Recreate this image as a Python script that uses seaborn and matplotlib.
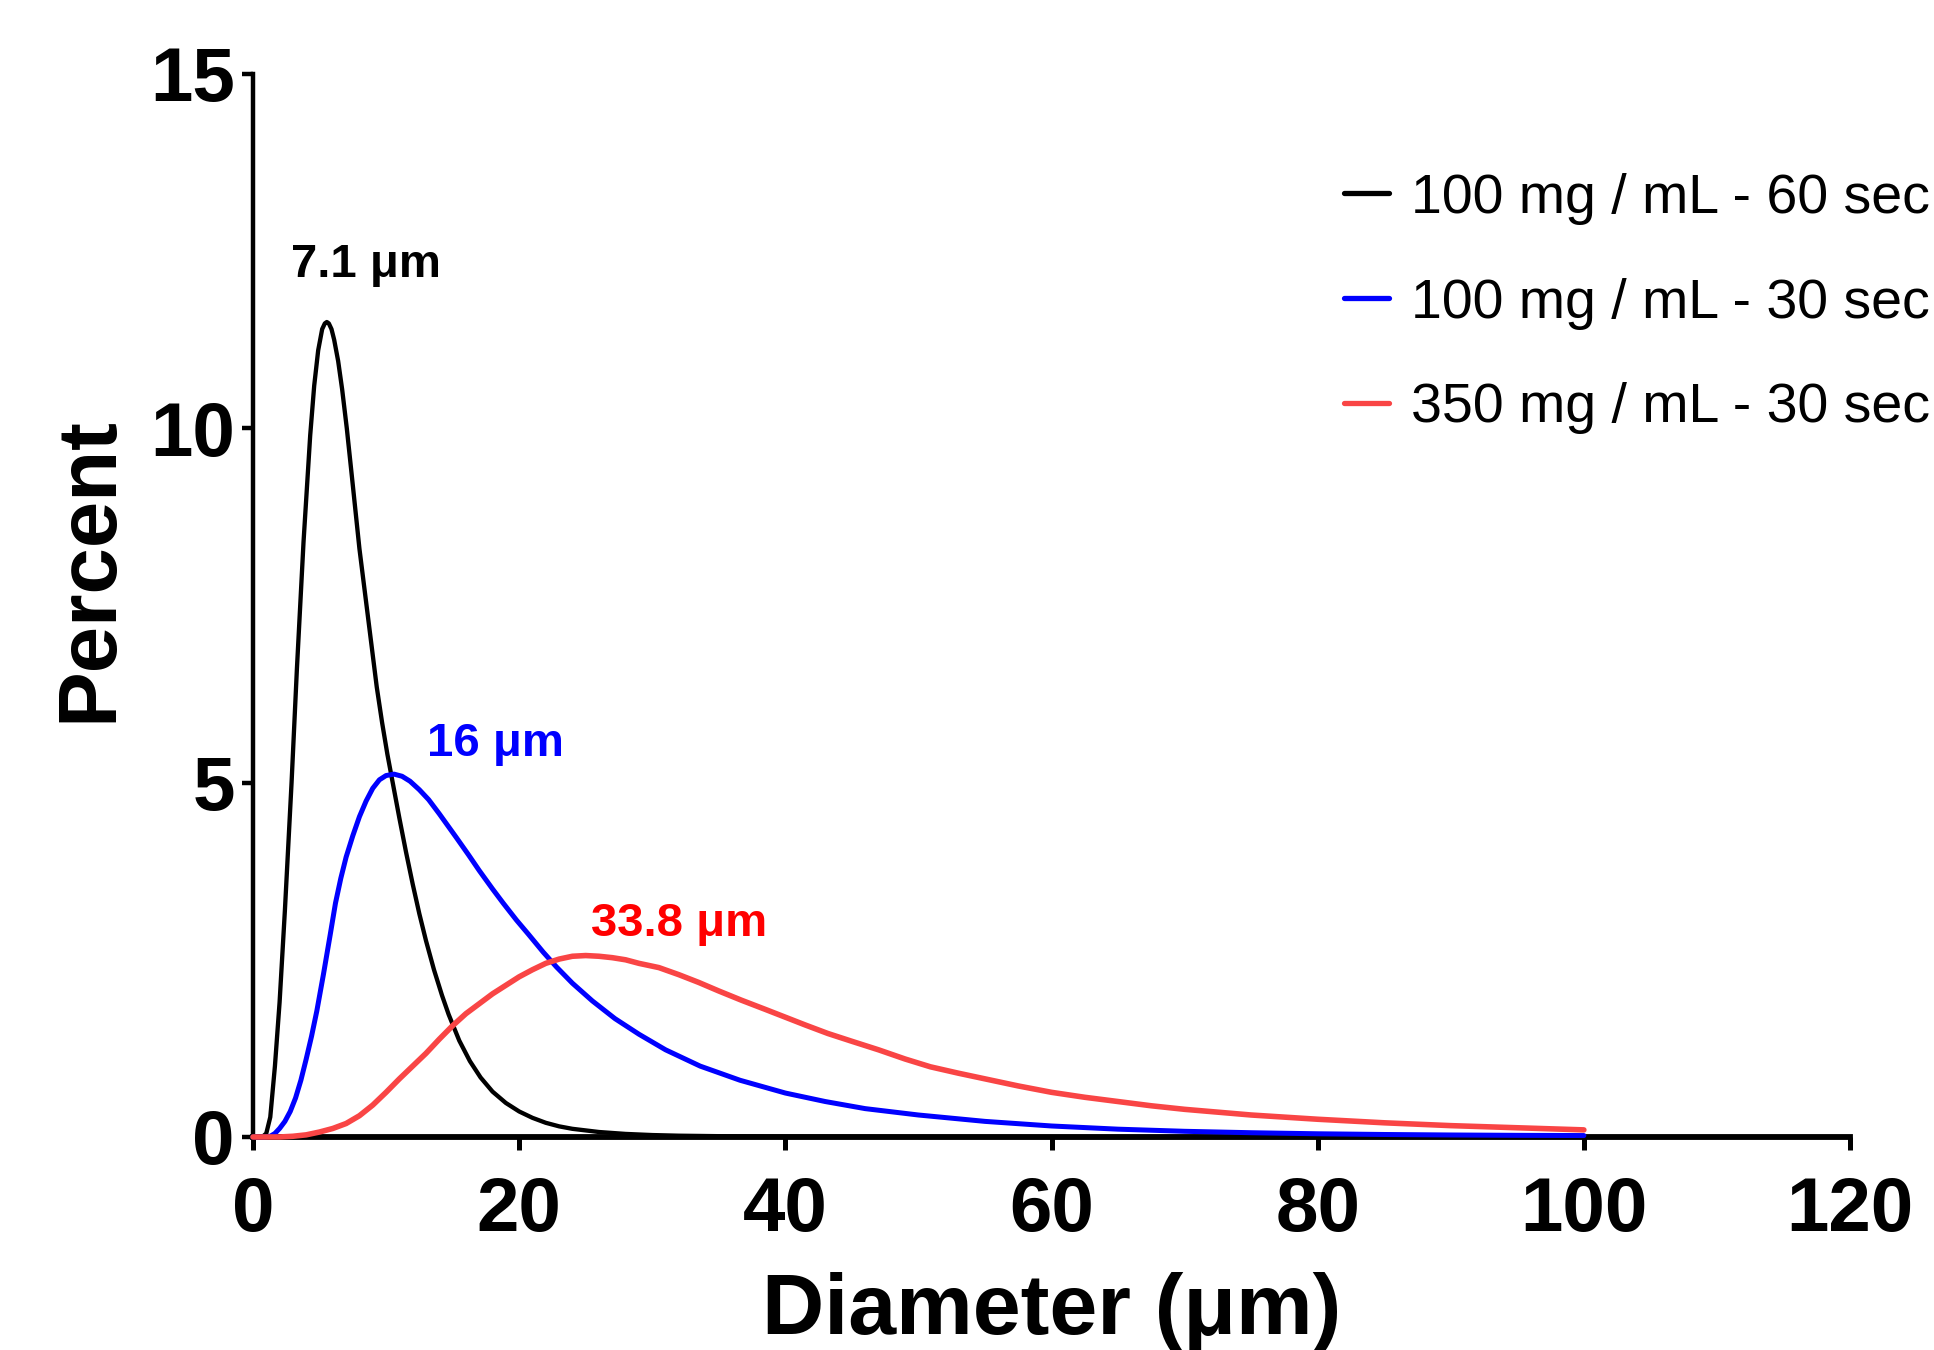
import pandas as pd
import seaborn as sns
import matplotlib.pyplot as plt
from matplotlib.lines import Line2D

# values
x_60s = [0, 0.7, 1.0, 1.3, 1.65, 2.0, 2.4, 2.9, 3.3, 3.8, 4.3, 4.6, 4.9, 5.2, 5.4, 5.55, 5.7,
         5.9, 6.1, 6.4, 6.7, 7.05, 7.5, 8.0, 8.5, 8.9, 9.3, 9.7, 10.1, 10.5, 11.0, 11.5,
         12.0, 12.5, 13.0, 13.6, 14.2, 14.7, 15.5, 16.3, 17.1, 18.0, 19.0, 20.0, 21.0,
         22.0, 23.0, 24.0, 26.0, 28.0, 30.0, 32.0, 36.0, 40.0, 50.0, 60.0, 80.0, 100.0]
y_60s = [0, 0.0, 0.05, 0.28, 1.0, 1.9, 3.2, 5.0, 6.6, 8.4, 9.9, 10.6, 11.1, 11.4, 11.48, 11.5,
         11.48, 11.4, 11.25, 10.95, 10.55, 10.0, 9.2, 8.3, 7.55, 6.95, 6.35, 5.85, 5.4, 5.0,
         4.5, 4.02, 3.57, 3.15, 2.77, 2.36, 2.0, 1.73, 1.36, 1.07, 0.84, 0.64, 0.48, 0.36,
         0.27, 0.2, 0.15, 0.115, 0.07, 0.043, 0.027, 0.018, 0.009, 0.005, 0.001, 0.0, 0.0, 0.0]

x_30s = [0, 0.9, 1.3, 1.65, 2.0, 2.4, 2.8, 3.2, 3.6, 4.0, 4.4, 4.8, 5.3, 5.8, 6.2, 6.6, 7.0,
         7.5, 8.0, 8.5, 9.0, 9.5, 10.0, 10.6, 11.2, 11.8, 12.5, 13.2, 14.0, 15.3, 16.2, 17.0,
         18.0, 18.8, 19.8, 20.7, 21.8, 22.8, 24.0, 25.5, 27.2, 29.0, 31.0, 33.6, 36.6, 40.0,
         43.0, 46.0, 50.0, 55.0, 60.0, 65.0, 70.0, 75.0, 80.0, 85.0, 90.0, 95.0, 100.0]
y_30s = [0, 0.0, 0.01, 0.05, 0.12, 0.22, 0.36, 0.55, 0.8, 1.1, 1.42, 1.78, 2.3, 2.85, 3.3, 3.65,
         3.95, 4.25, 4.52, 4.74, 4.92, 5.04, 5.1, 5.12, 5.09, 5.02, 4.9, 4.76, 4.56, 4.22,
         3.98, 3.76, 3.5, 3.3, 3.06, 2.86, 2.61, 2.4, 2.17, 1.92, 1.67, 1.45, 1.23, 1.0, 0.8,
         0.62, 0.5, 0.4, 0.31, 0.22, 0.155, 0.11, 0.08, 0.06, 0.045, 0.035, 0.028, 0.023, 0.02]

x_350 = [0, 2.0, 3.0, 4.0, 5.0, 6.0, 7.0, 8.0, 9.0, 10.0, 11.0, 12.0, 13.0, 14.0, 15.0, 16.0,
         17.0, 18.0, 19.0, 20.0, 21.0, 22.0, 23.0, 24.0, 25.0, 26.0, 27.0, 28.0, 29.0, 30.5,
         32.0, 33.5, 35.0, 36.7, 38.5, 40.0, 41.5, 43.2, 45.0, 47.0, 49.0, 50.9, 53.0, 55.0,
         57.5, 60.0, 62.5, 65.0, 67.5, 70.0, 75.0, 80.0, 85.0, 90.0, 95.0, 100.0]
y_350 = [0, 0.0, 0.01, 0.03, 0.07, 0.12, 0.19, 0.3, 0.45, 0.63, 0.82, 1.0, 1.18, 1.38, 1.57,
         1.74, 1.88, 2.02, 2.14, 2.26, 2.36, 2.45, 2.51, 2.55, 2.56, 2.55, 2.53, 2.5, 2.45,
         2.39, 2.29, 2.18, 2.06, 1.93, 1.8, 1.69, 1.58, 1.46, 1.35, 1.23, 1.1, 0.99, 0.9, 0.82,
         0.72, 0.63, 0.56, 0.5, 0.44, 0.39, 0.31, 0.25, 0.2, 0.16, 0.13, 0.1]

series_names = ["100 mg / mL - 60 sec", "100 mg / mL - 30 sec", "350 mg / mL - 30 sec"]
line_colors = ["#000000", "#0000FF", "#F94545"]
label_colors = ["#000000", "#0000FF", "#FF0000"]
line_widths = [3.1, 3.6, 4.0]

peak_labels = ["7.1 μm", "16 μm", "33.8 μm"]
peak_label_x = [8.5, 18.2, 32.0]
peak_label_y = [12.3, 5.55, 3.0]

x_ticks = [0, 20, 40, 60, 80, 100, 120]
y_ticks = [0, 5, 10, 15]

sns.set_style("ticks")
plt.rcParams["font.family"] = ["Liberation Sans", "DejaVu Sans"]
plt.rcParams.update({"text.color": "black", "axes.labelcolor": "black",
                     "xtick.color": "black", "ytick.color": "black",
                     "axes.edgecolor": "black"})

fig = plt.figure(figsize=(19.34, 13.5), dpi=100)
ax = fig.add_axes([0.1308, 0.1578, 0.8258, 0.7874])

all_x = [x_60s, x_30s, x_350]
all_y = [y_60s, y_30s, y_350]
for name, xs, ys, col, lw in zip(series_names, all_x, all_y, line_colors, line_widths):
    df = pd.DataFrame({"Diameter": xs, "Percent": ys})
    sns.lineplot(data=df, x="Diameter", y="Percent", color=col, linewidth=lw,
                 ax=ax, sort=False, estimator=None, clip_on=False, zorder=3)

for txt, tx, ty, col in zip(peak_labels, peak_label_x, peak_label_y, label_colors):
    ax.text(tx, ty, txt, color=col, fontsize=34, fontweight="bold",
            ha="center", va="center")

ax.set_xlim(0, 120)
ax.set_ylim(0, 15)
ax.set_xticks(x_ticks)
ax.set_yticks(y_ticks)
sns.despine(ax=ax)
ax.spines["left"].set_linewidth(3.2)
ax.spines["bottom"].set_linewidth(4.2)
ax.tick_params(axis="x", length=9, width=3.6, pad=19, labelsize=55)
ax.tick_params(axis="y", length=8, width=3.2, pad=5, labelsize=55)
for lab in ax.get_xticklabels() + ax.get_yticklabels():
    lab.set_fontweight("bold")

ax.set_xlabel("Diameter (μm)", fontsize=62, fontweight="bold")
ax.set_ylabel("Percent", fontsize=60, fontweight="bold")
ax.xaxis.set_label_coords(0.5, -0.127)
ax.yaxis.set_label_coords(-0.078, 0.534)

handles = [Line2D([], [], color=c, linewidth=3.8) for c in line_colors]
ax.legend(handles, series_names, loc="upper left", bbox_to_anchor=(0.695, 0.872),
          bbox_transform=fig.transFigure, frameon=False, fontsize=40,
          handlelength=0.8, handletextpad=0.4, labelspacing=0.95, borderpad=0,
          borderaxespad=0)

fig.savefig("out.png", dpi=100)
